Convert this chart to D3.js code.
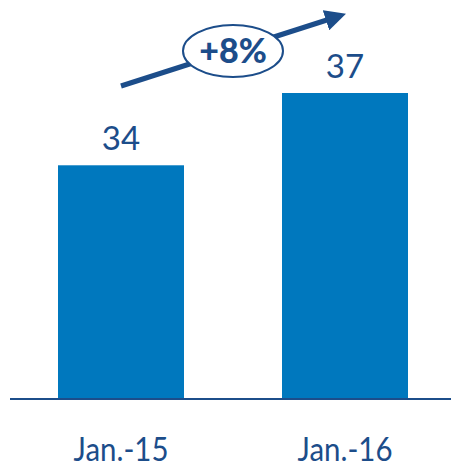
<!DOCTYPE html>
<html><head><meta charset="utf-8">
<script src="https://cdn.jsdelivr.net/npm/d3@7"></script>
<style>body{margin:0;background:#fff}</style>
</head><body>
<script>
const categories = ["Jan.-15", "Jan.-16"];
const values = [34, 37];
const growthLabel = "+8%";

const W = 451, H = 472;
const svg = d3.select("body").append("svg").attr("width", W).attr("height", H);
const navy = "#1c4d8a", barColor = "#0078be";
const font = "Lato, 'Open Sans', sans-serif";

const x = d3.scaleBand().domain(categories).range([58, 408]).paddingInner(0.4375).paddingOuter(0);
const y = d3.scaleLinear().domain([24.3, 37]).range([399, 93]);

svg.selectAll("rect.bar").data(values).join("rect")
  .attr("x", (d, i) => x(categories[i])).attr("width", x.bandwidth())
  .attr("y", d => y(d)).attr("height", d => y(24.3) - y(d)).attr("fill", barColor);

svg.selectAll("text.val").data(values).join("text")
  .attr("x", (d, i) => x(categories[i]) + x.bandwidth() / 2).attr("y", d => y(d) - 15)
  .attr("text-anchor", "middle").attr("fill", navy)
  .style("font-family", font).style("font-size", "33px").text(d => d);

// baseline axis
const axis = svg.append("g").attr("transform", "translate(0,399)")
  .call(d3.axisBottom(x).tickSize(0).tickPadding(39));
axis.select(".domain").attr("d", "M10,0H451").attr("stroke", navy).attr("stroke-width", 2);
axis.selectAll("text").attr("fill", navy).style("font-family", font).style("font-size", "32px")
  .attr("transform", "scale(0.92,1)");

// growth arrow
const defs = svg.append("defs");
defs.append("marker").attr("id", "ah").attr("viewBox", "0 0 10 10").attr("refX", 2).attr("refY", 5)
  .attr("markerWidth", 4.2).attr("markerHeight", 4.2).attr("orient", "auto")
  .append("path").attr("d", "M0,0L10,5L0,10z").attr("fill", navy);
const x1 = x(categories[0]) + x.bandwidth() / 2;
svg.append("line").attr("x1", x1).attr("y1", 86).attr("x2", 330).attr("y2", 19)
  .attr("stroke", navy).attr("stroke-width", 5).attr("marker-end", "url(#ah)");
svg.append("ellipse").attr("cx", 233).attr("cy", 51).attr("rx", 50).attr("ry", 26)
  .attr("fill", "#fff").attr("stroke", navy).attr("stroke-width", 2);
svg.append("text").attr("x", 233).attr("y", 63).attr("text-anchor", "middle").attr("fill", navy)
  .style("font-family", font).style("font-size", "34px").style("font-weight", "900").text(growthLabel);
</script>
</body></html>
